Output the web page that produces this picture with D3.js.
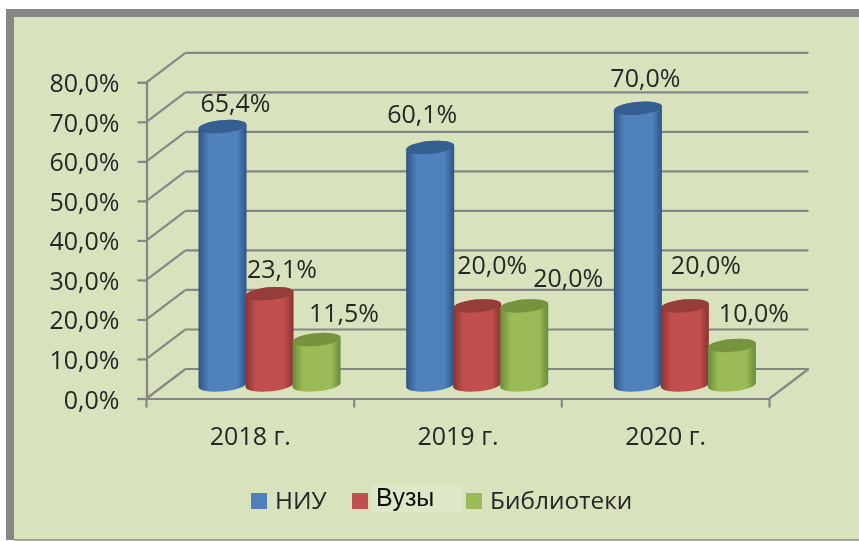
<!DOCTYPE html>
<html>
<head>
<meta charset="utf-8">
<script src="https://cdn.jsdelivr.net/npm/d3@7"></script>
<style>
  html, body { margin: 0; padding: 0; background: #fff; }
  svg { display: block; }
  text { font-family: "Open Sans", sans-serif; fill: #262626; }
</style>
</head>
<body>
<div id="chart-container"></div>
<script>
let years = ["2018 г.", "2019 г.", "2020 г."];
let seriesNames = ["НИУ", "Вузы", "Библиотеки"];
let niu = [65.4, 60.1, 70.0];
let vuzy = [23.1, 20.0, 20.0];
let biblioteki = [11.5, 20.0, 10.0];
let yTicks = [0, 10, 20, 30, 40, 50, 60, 70, 80];

// hand placed data labels, same as in the original: [dx, dy] from the top of the cylinder
let labelShift = [
  [[13, -15], [12.5, -15.5], [27.5, -17.5]],
  [[-8, -24], [15, -32], [44, -19]],
  [[7.5, -21], [21, -32], [22, -23]]
];

let colors = [
  { main: "#4f81bd", dark: "#2c5480", top: "#355f91" },
  { main: "#c0504d", dark: "#8a3331", top: "#963c3a" },
  { main: "#9bbb59", dark: "#6d8a38", top: "#76933c" }
];

let width = 859, height = 541;
let x0 = 146.5, x1 = 769.5, y0 = 398.5, yTop = 82.3;
let depthX = 39, depthY = -29.5;
let fontSize = "25px";

let svg = d3.select("#chart-container").append("svg")
  .attr("width", width)
  .attr("height", height);

// ----- FRAME -----
svg.append("rect").attr("x", 6).attr("y", 9).attr("width", 853).attr("height", 531).attr("fill", "#878787");
svg.append("rect").attr("x", 14).attr("y", 17).attr("width", 845).attr("height", 522).attr("fill", "#d8e2bc");
svg.append("rect").attr("x", 14).attr("y", 539.5).attr("width", 845).attr("height", 1.5).attr("fill", "#a9b0a0");

let defs = svg.append("defs");
defs.append("filter").attr("id", "soft")
  .append("feGaussianBlur").attr("stdDeviation", 0.5);

colors.forEach((c, i) => {
  let g = defs.append("linearGradient").attr("id", "cyl" + i);
  [[0, c.dark], [0.22, c.main], [0.8, c.main], [1, c.dark]].forEach(s => {
    g.append("stop").attr("offset", s[0]).attr("stop-color", s[1]);
  });
});

let chart = svg.append("g").attr("filter", "url(#soft)");

// ----- SCALES -----
let yScale = d3.scaleLinear().domain([0, 80]).range([y0, yTop]);
let xScale = d3.scaleBand().domain(years).range([x0, x1]);
let inner = d3.scaleBand().domain(seriesNames)
  .range([-70.5, 70.5]).paddingInner(0).paddingOuter(0);

// ----- WALLS AND FLOOR -----
let gridColor = "#868686";
chart.selectAll("line.back").data(yTicks).join("line")
  .attr("x1", x0 + depthX).attr("x2", x1 + depthX)
  .attr("y1", d => yScale(d) + depthY).attr("y2", d => yScale(d) + depthY)
  .attr("stroke", gridColor).attr("stroke-width", 2.2);
chart.selectAll("line.side").data(yTicks).join("line")
  .attr("x1", x0).attr("x2", x0 + depthX)
  .attr("y1", d => yScale(d)).attr("y2", d => yScale(d) + depthY)
  .attr("stroke", gridColor).attr("stroke-width", 2.2);
chart.append("line")
  .attr("x1", x1).attr("x2", x1 + depthX)
  .attr("y1", y0).attr("y2", y0 + depthY)
  .attr("stroke", gridColor).attr("stroke-width", 2.2);

// ----- AXES -----
let yAxis = chart.append("g")
  .attr("transform", `translate(${x0},0)`)
  .call(d3.axisLeft(yScale).tickValues(yTicks).tickSize(9).tickPadding(18)
    .tickFormat(d => d.toFixed(1).replace(".", ",") + "%"));

let xAxis = chart.append("g")
  .attr("transform", `translate(0,${y0})`)
  .call(d3.axisBottom(xScale).tickSize(0).tickPadding(29));

// d3 puts the band ticks in the middle, the category ticks here sit on the edges
let edges = d3.range(years.length + 1).map(i => x0 + i * xScale.step());
chart.selectAll("line.edge").data(edges).join("line")
  .attr("x1", d => d).attr("x2", d => d)
  .attr("y1", y0).attr("y2", y0 + 9)
  .attr("stroke", gridColor).attr("stroke-width", 2.2);

[yAxis, xAxis].forEach(a => {
  a.selectAll("path.domain").attr("stroke", gridColor).attr("stroke-width", 2.2);
  a.selectAll("line").attr("stroke", gridColor).attr("stroke-width", 2.2);
  a.selectAll("text").style("font-size", fontSize).style("font-family", "'Open Sans', sans-serif").attr("fill", "#262626");
});
yAxis.selectAll("text").attr("dy", "0.38em");

// ----- CYLINDERS -----
let values = [niu, vuzy, biblioteki];
let midDepth = { x: 19.2, y: -13.5 };
let rx = 24, ry = 6.4, tilt = 2.3;

seriesNames.forEach((name, s) => {
  years.forEach((year, c) => {
    let v = values[s][c];
    let cx = xScale(year) + xScale.bandwidth() / 2 + midDepth.x + inner(name) + inner.bandwidth() / 2;
    let baseY = yScale(0) + midDepth.y;
    let topY = yScale(v) + midDepth.y;

    let group = chart.append("g");
    group.append("path")
      .attr("d", `M${cx - rx},${topY + tilt} L${cx - rx},${baseY + tilt}
        A${rx},${ry} -5 0 0 ${cx + rx},${baseY - tilt}
        L${cx + rx},${topY - tilt}
        A${rx},${ry} -5 0 0 ${cx - rx},${topY + tilt} Z`)
      .attr("fill", `url(#cyl${s})`);
    group.append("ellipse")
      .attr("cx", cx).attr("cy", topY)
      .attr("rx", rx).attr("ry", ry)
      .attr("transform", `rotate(-5.5 ${cx} ${topY})`)
      .attr("fill", colors[s].top);

    chart.append("text")
      .attr("x", cx + labelShift[c][s][0])
      .attr("y", topY + labelShift[c][s][1])
      .attr("text-anchor", "middle")
      .style("font-size", fontSize)
      .text(v.toFixed(1).replace(".", ",") + "%");
  });
});

// ----- LEGEND -----
let legendX = [251, 352, 466];
let legendTextX = [275, 376, 490];

// the "Вузы" entry was pasted over in the source picture, on a lighter patch
chart.append("rect")
  .attr("x", 371).attr("y", 485).attr("width", 91).attr("height", 27)
  .attr("fill", "#dfe8c6");

seriesNames.forEach((name, i) => {
  chart.append("rect")
    .attr("x", legendX[i]).attr("y", 493)
    .attr("width", 16).attr("height", 16)
    .attr("fill", colors[i].main);
  let isPatched = name === "Вузы";
  chart.append("text")
    .attr("x", legendTextX[i])
    .attr("y", isPatched ? 505.5 : 509)
    .style("font-family", isPatched ? "'Liberation Sans', sans-serif" : "'Open Sans', sans-serif")
    .style("font-size", isPatched ? "25px" : "24.4px")
    .style("fill", isPatched ? "#111" : "#262626")
    .text(name);
});
</script>
</body>
</html>
